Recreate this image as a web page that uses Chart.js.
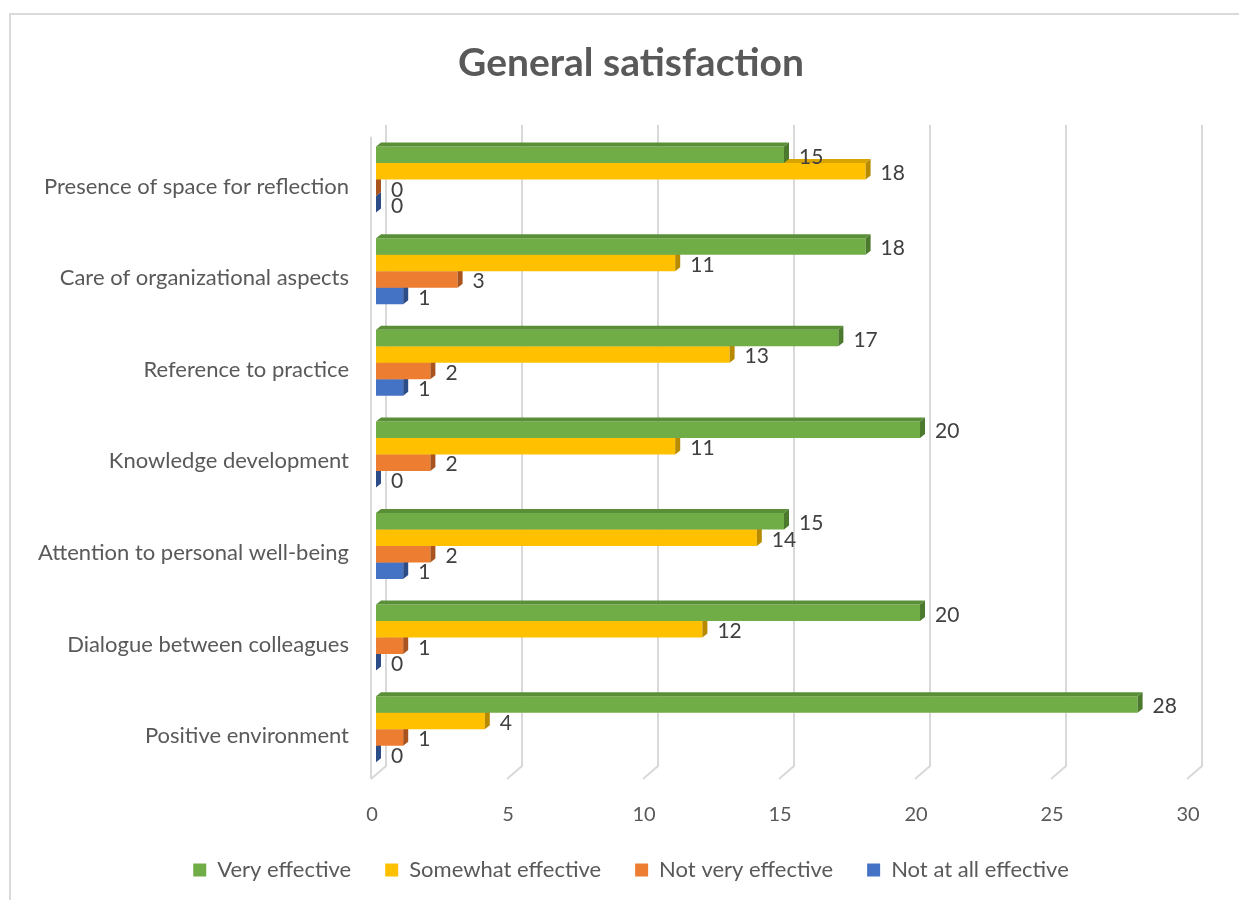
<!DOCTYPE html>
<html>
<head>
<meta charset="utf-8">
<script src="https://cdn.jsdelivr.net/npm/chart.js@4/dist/chart.umd.min.js"></script>
<style>
  html, body { margin: 0; padding: 0; background: #fff; }
  #wrap { position: relative; width: 1239px; height: 900px; }
  #frame { position: absolute; left: 9px; top: 13px; right: 0; bottom: 0;
           border-left: 2px solid #d9d9d9; border-top: 2px solid #d9d9d9; }
  canvas { position: absolute; left: 0; top: 0; }
</style>
</head>
<body>
<div id="wrap">
  <div id="frame"></div>
  <canvas id="chart" width="1239" height="900"></canvas>
</div>
<script>
const categories = [
  "Presence of space for reflection",
  "Care of organizational aspects",
  "Reference to practice",
  "Knowledge development",
  "Attention to personal well-being",
  "Dialogue between colleagues",
  "Positive environment"
]
const veryEffective = [15, 18, 17, 20, 15, 20, 28]
const somewhatEffective = [18, 11, 13, 11, 14, 12, 4]
const notVeryEffective = [0, 3, 2, 2, 2, 1, 1]
const notAtAllEffective = [0, 1, 1, 0, 1, 0, 0]
const xTicks = [0, 5, 10, 15, 20, 25, 30]

const FONT = "Lato, 'Open Sans', sans-serif"
const DEPTH_X = 5
const DEPTH_Y = 4

// vertical grid with the little 3d foot at the bottom
const grid3d = {
  id: "grid3d",
  beforeDatasetsDraw(chart) {
    const { ctx, chartArea, scales } = chart
    const x = scales.x
    const top = chartArea.top - 9
    const bend = chartArea.bottom - 9
    const foot = chartArea.bottom + 4
    ctx.save()
    ctx.strokeStyle = "#d9d9d9"
    ctx.lineWidth = 2
    xTicks.forEach(v => {
      const px = x.getPixelForValue(v)
      ctx.beginPath()
      ctx.moveTo(px + 10, top)
      ctx.lineTo(px + 10, bend)
      ctx.lineTo(px - 5, foot)
      ctx.stroke()
    })
    const p0 = x.getPixelForValue(0)
    ctx.beginPath()
    ctx.moveTo(p0 - 5, top + 12)
    ctx.lineTo(p0 - 5, foot)
    ctx.stroke()
    ctx.restore()
  }
}

// top and side faces of each bar
const barFaces = {
  id: "barFaces",
  afterDatasetDraw(chart, args) {
    const { ctx } = chart
    const ds = chart.data.datasets[args.index]
    ctx.save()
    args.meta.data.forEach(bar => {
      const { x, y, base, height } = bar.getProps(["x", "y", "base", "height"], true)
      const t = y - height / 2
      const b = y + height / 2
      ctx.fillStyle = ds.topColor
      ctx.beginPath()
      ctx.moveTo(base, t)
      ctx.lineTo(base + DEPTH_X, t - DEPTH_Y)
      ctx.lineTo(x + DEPTH_X, t - DEPTH_Y)
      ctx.lineTo(x, t)
      ctx.closePath()
      ctx.fill()
      ctx.fillStyle = ds.sideColor
      ctx.beginPath()
      ctx.moveTo(x, t)
      ctx.lineTo(x + DEPTH_X, t - DEPTH_Y)
      ctx.lineTo(x + DEPTH_X, b - DEPTH_Y)
      ctx.lineTo(x, b)
      ctx.closePath()
      ctx.fill()
    })
    ctx.restore()
  }
}

const valueLabels = {
  id: "valueLabels",
  afterDatasetsDraw(chart) {
    const { ctx } = chart
    ctx.save()
    ctx.font = "21px " + FONT
    ctx.fillStyle = "#404040"
    ctx.textAlign = "left"
    ctx.textBaseline = "middle"
    chart.data.datasets.forEach((ds, i) => {
      chart.getDatasetMeta(i).data.forEach((bar, j) => {
        ctx.fillText(ds.data[j], bar.x + 15, bar.y + 2)
      })
    })
    ctx.restore()
  }
}

new Chart(document.getElementById("chart"), {
  type: "bar",
  data: {
    labels: categories,
    datasets: [
      { label: "Very effective", data: veryEffective, backgroundColor: "#70ad47",
        topColor: "#5a8f38", sideColor: "#4b7a2e" },
      { label: "Somewhat effective", data: somewhatEffective, backgroundColor: "#ffc000",
        topColor: "#d9a300", sideColor: "#b88a00" },
      { label: "Not very effective", data: notVeryEffective, backgroundColor: "#ed7d31",
        topColor: "#c8692a", sideColor: "#a9541f" },
      { label: "Not at all effective", data: notAtAllEffective, backgroundColor: "#4472c4",
        topColor: "#3a60a6", sideColor: "#2c4c88" }
    ]
  },
  options: {
    indexAxis: "y",
    responsive: false,
    animation: false,
    categoryPercentage: 0.72,
    barPercentage: 1,
    layout: { padding: { left: 70, right: 47, top: 0, bottom: 9 } },
    scales: {
      x: {
        min: 0,
        max: 30,
        border: { display: false },
        grid: { display: false, drawTicks: false },
        ticks: {
          stepSize: 5,
          color: "#595959",
          font: { family: FONT, size: 20 },
          padding: 28,
          labelOffset: -4
        },
        afterFit(scale) { scale.height = 50 }
      },
      y: {
        border: { display: false },
        grid: { display: false, drawTicks: false },
        ticks: {
          color: "#595959",
          font: { family: FONT, size: 22 },
          padding: 27,
          labelOffset: 7
        },
        afterFit(scale) {
          scale.width = 306
          // long category names run past the axis box, don't clip them
          scale._computeLabelArea = () => undefined
        }
      }
    },
    plugins: {
      title: {
        display: true,
        text: "General satisfaction",
        color: "#595959",
        font: { family: FONT, size: 39, weight: "bold" },
        padding: { top: 40, bottom: 47 }
      },
      legend: {
        position: "bottom",
        labels: {
          color: "#595959",
          font: { family: FONT, size: 22 },
          boxWidth: 13,
          boxHeight: 13,
          padding: 34
        }
      },
      tooltip: { enabled: false }
    }
  },
  plugins: [grid3d, barFaces, valueLabels]
})
</script>
</body>
</html>
